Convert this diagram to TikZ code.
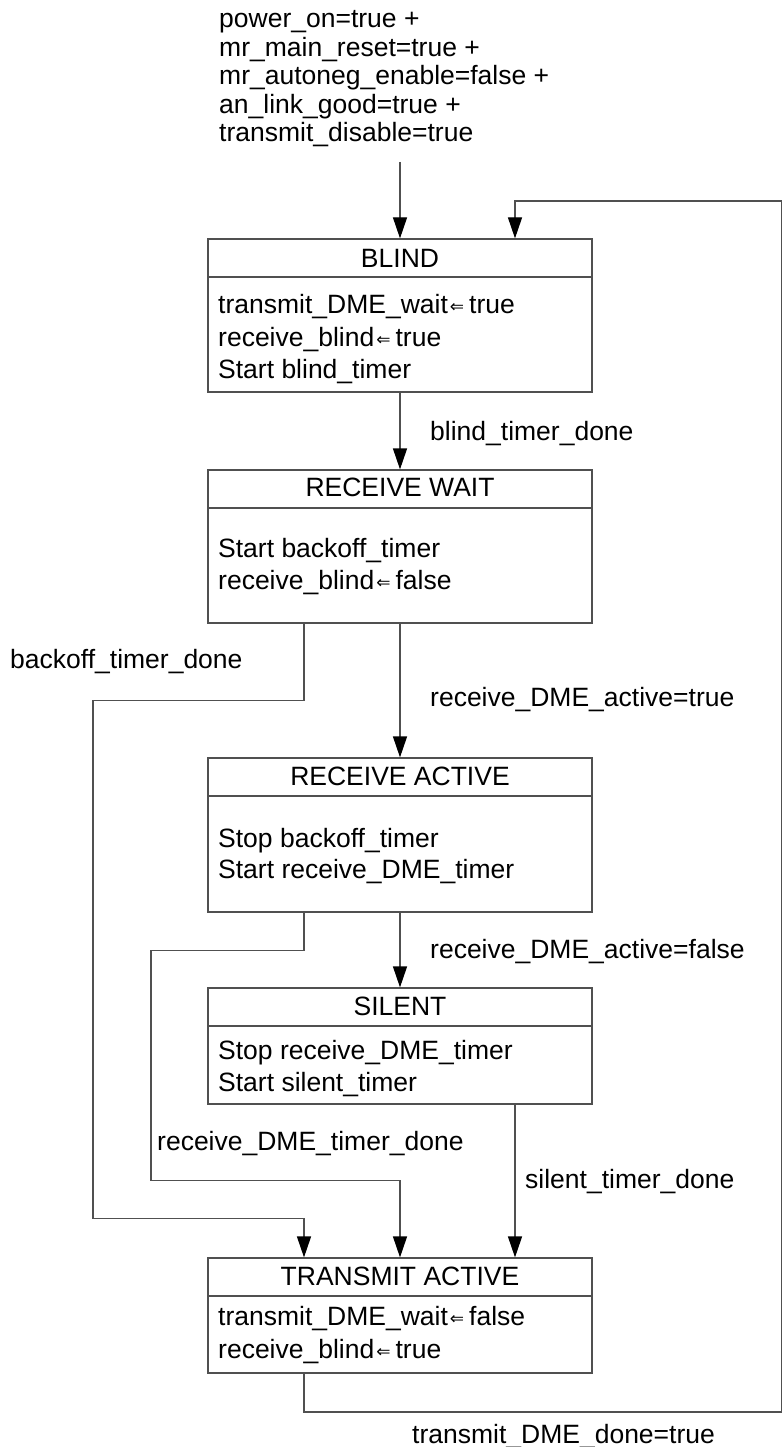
\documentclass[tikz,border=0pt]{standalone}
\usepackage{fontspec}
\setmainfont{Liberation Sans}
\newfontfamily\symf{DejaVu Sans}
\usetikzlibrary{arrows.meta}
\newcommand{\asg}{\hspace{2pt}\raisebox{0.5pt}{\symf\fontsize{17}{17}\selectfont ⇐}\hspace{5pt}}
\definecolor{lc}{HTML}{505050}
\begin{document}
\begin{tikzpicture}[x=1pt, y=-1pt, font=\fontsize{26.5}{29}\selectfont,
  state/.style={draw=lc, line width=1.2pt, minimum width=384pt, inner sep=0pt},
  ln/.style={draw=lc, line width=1.2pt},
  arr/.style={ln, -{Triangle[width=14pt,length=21pt,color=black]}},
  txt/.style={anchor=base west, inner sep=0pt},
  ttl/.style={anchor=base, inner sep=0pt}]
\useasboundingbox (0,0) rectangle (783,1447);
% columns
\coordinate (c1) at (304,0);
\coordinate (c2) at (515,0);
\coordinate (rb) at (781.5,1412);
\coordinate (rt) at (781.5,201);
\coordinate (initend) at (400,162);
% initial condition
\node[txt] (i1) at (219,28) {power\_on=true +};
\node[txt] (i2) at (219,57) {mr\_main\_reset=true +};
\node[txt] (i3) at (219,85) {mr\_autoneg\_enable=false +};
\node[txt] (i4) at (219,114) {an\_link\_good=true +};
\node[txt] (i5) at (219,142) {transmit\_disable=true};
% states
\node[state, minimum height=153pt] (blind) at (400,315.5) {};
\draw[ln] ([yshift=-38.5pt]blind.north west) -- ([yshift=-38.5pt]blind.north east);
\node[ttl] (blindt) at (400,267) {BLIND};
\node[txt] (blind1) at (218,313) {transmit\_DME\_wait\asg true};
\node[txt] (blind2) at (218,346) {receive\_blind\asg true};
\node[txt] (blind3) at (218,378) {Start blind\_timer};

\node[state, minimum height=153pt] (rwait) at (400,546.5) {};
\draw[ln] ([yshift=-38.5pt]rwait.north west) -- ([yshift=-38.5pt]rwait.north east);
\node[ttl] (rwaitt) at (400,496) {RECEIVE WAIT};
\node[txt] (rwait1) at (218,557) {Start backoff\_timer};
\node[txt] (rwait2) at (218,589) {receive\_blind\asg false};

\node[state, minimum height=154pt] (ract) at (400,835) {};
\draw[ln] ([yshift=-38.5pt]ract.north west) -- ([yshift=-38.5pt]ract.north east);
\node[ttl] (ractt) at (400,785) {RECEIVE ACTIVE};
\node[txt] (ract1) at (218,847) {Stop backoff\_timer};
\node[txt] (ract2) at (218,878) {Start receive\_DME\_timer};

\node[state, minimum height=116pt] (silent) at (400,1046) {};
\draw[ln] ([yshift=-38.5pt]silent.north west) -- ([yshift=-38.5pt]silent.north east);
\node[ttl] (silentt) at (400,1015) {SILENT};
\node[txt] (silent1) at (218,1059) {Stop receive\_DME\_timer};
\node[txt] (silent2) at (218,1091) {Start silent\_timer};

\node[state, minimum height=115pt] (ta) at (400,1315.5) {};
\draw[ln] ([yshift=-38.5pt]ta.north west) -- ([yshift=-38.5pt]ta.north east);
\node[ttl] (tat) at (400,1285) {TRANSMIT ACTIVE};
\node[txt] (ta1) at (218,1325) {transmit\_DME\_wait\asg false};
\node[txt] (ta2) at (218,1358) {receive\_blind\asg true};
% transitions
\draw[arr] (initend) -- (blind.north);
\draw[arr] (blind.south) -- (rwait.north);
\node[txt] (l1) at (430,440) {blind\_timer\_done};
\draw[arr] (rwait.south -| c1) -- ++(0,77) -- ++(-211,0) -- ++(0,518) -- ++(211,0) -- (ta.north -| c1);
\node[txt] (l2) at (10,668) {backoff\_timer\_done};
\draw[arr] (rwait.south) -- (ract.north);
\node[txt] (l3) at (430,706) {receive\_DME\_active=true};
\draw[arr] (ract.south -| c1) -- ++(0,38) -- ++(-153,0) -- ++(0,230) -- ++(249,0) -- (ta.north);
\node[txt] (l4) at (157,1150) {receive\_DME\_timer\_done};
\draw[arr] (ract.south) -- (silent.north);
\node[txt] (l5) at (430,958) {receive\_DME\_active=false};
\draw[arr] (silent.south -| c2) -- (ta.north -| c2);
\node[txt] (l6) at (525,1188) {silent\_timer\_done};
\draw[arr] (ta.south -| c1) |- (rb) -- (rt) -| (blind.north -| c2);
\node[txt] (l7) at (412,1443) {transmit\_DME\_done=true};
\end{tikzpicture}
\end{document}
